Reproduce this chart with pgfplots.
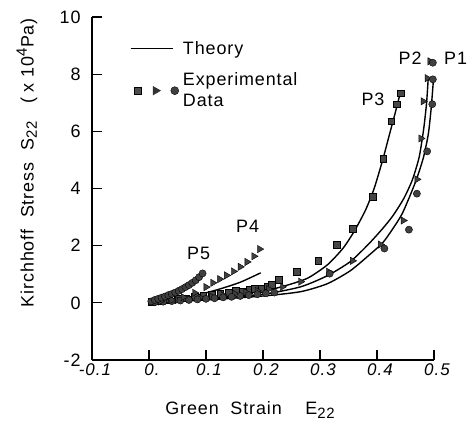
\documentclass[border=0pt]{standalone}
\usepackage{pgfplots}
\pgfplotsset{compat=1.18}
\usetikzlibrary{shapes.geometric}
\usepackage{fontspec}
\setmainfont{Liberation Sans}[LetterSpace=5]
\begin{document}
\begin{tikzpicture}[font=\fontsize{18}{21}\selectfont]
\path (0,0) rectangle (472bp,431bp);
\begin{axis}[
  at={(92bp,71bp)}, anchor=south west,
  scale only axis, width=342bp, height=343bp,
  xmin=-0.1, xmax=0.5, ymin=-2, ymax=10,
  axis x line*=bottom, axis y line*=left,
  axis line style={-, line width=1.5pt},
  /pgf/number format/assume math mode=true,
  xtick={-0.1,0,0.1,0.2,0.3,0.4,0.5},
  xticklabels={-0\kern1pt.\kern1pt1, 0\kern1pt., 0\kern1pt.\kern1pt1, 0\kern1pt.\kern1pt2, 0\kern1pt.\kern1pt3, 0\kern1pt.\kern1pt4, 0\kern1pt.\kern1pt5},
  ytick={-2,0,2,4,6,8,10},
  yticklabels={-2,0,2,4,6,8,10},
  tick align=inside, major tick length=10bp,
  tick style={line width=1.2pt, black},
  xticklabel style={font=\itshape\fontsize{17}{20}\selectfont, xshift=3bp},
  yticklabel style={font=\fontsize{18}{21}\selectfont, xshift=-8bp},
  clip=false,
  legend style={draw=none, fill=none, at={(0.11,0.935)}, anchor=north west,
    font=\fontsize{18}{21}\selectfont, row sep=13bp, inner sep=0pt},
  legend cell align=left,
  legend style={nodes={align=left, inner xsep=4bp}},
]
\addlegendimage{legend image code/.code={\draw[line width=1.5pt] (0bp,0bp) -- (42bp,0bp);}}
\addlegendentry{Theory}
\addlegendimage{legend image code/.code={
  \node[draw=black, fill=gray!60!black, minimum size=7bp, inner sep=0pt] at (3bp,0bp) {};
  \node[fill=black!80, regular polygon, regular polygon sides=3, shape border rotate=-90, minimum size=11bp, inner sep=0pt] at (22bp,0bp) {};
  \node[draw=black, fill=black!75, circle, minimum size=8bp, inner sep=0pt] at (40bp,0bp) {};}}
\addlegendentry{Experimental\\Data}

% theory curves
\addplot[line width=1.4pt, smooth, tension=0.4] coordinates {
(0,0) (0.1,0.17) (0.2,0.42) (0.236,0.58) (0.278,0.86) (0.313,1.33) (0.34,1.9) (0.36,2.5) (0.38,3.25) (0.395,4.0) (0.41,5.0) (0.422,5.9) (0.432,6.65) (0.441,7.35)};
\addplot[line width=1.4pt, smooth, tension=0.4] coordinates {
(0,0) (0.1,0.12) (0.2,0.3) (0.266,0.56) (0.313,0.95) (0.353,1.44) (0.385,2.05) (0.41,2.6) (0.428,3.05) (0.447,3.65) (0.462,4.3) (0.474,5.1) (0.482,6.1) (0.487,7.0) (0.49,7.9)};
\addplot[line width=1.4pt, smooth, tension=0.4] coordinates {
(0,0) (0.1,0.1) (0.2,0.24) (0.266,0.39) (0.313,0.67) (0.353,1.12) (0.385,1.65) (0.41,2.1) (0.428,2.6) (0.445,3.15) (0.467,4.2) (0.481,5.05) (0.49,5.9) (0.495,6.8) (0.499,7.8)};
\addplot[line width=1.4pt, smooth, tension=0.4] coordinates {
(0,0) (0.06,0.15) (0.12,0.46) (0.16,0.72) (0.196,1.05)};

% P3 squares
\addplot[only marks, mark=square*, mark size=3.4pt, mark options={draw=black, fill=gray!55!black, line width=0.5pt}] coordinates {
(0.005,0.04) (0.02,0.07) (0.035,0.1) (0.05,0.13) (0.065,0.16) (0.08,0.2) (0.095,0.24) (0.11,0.28) (0.125,0.32) (0.14,0.36) (0.152,0.42) (0.164,0.4) (0.176,0.46) (0.186,0.5) (0.198,0.48) (0.208,0.58) (0.215,0.64) (0.227,0.8) (0.259,1.09) (0.297,1.47) (0.329,2.04) (0.358,2.6) (0.392,3.72) (0.411,5.05) (0.425,6.35) (0.435,6.95) (0.441,7.33)};

% P2 triangles
\addplot[only marks, mark=triangle*, mark size=4.2pt, mark options={rotate=-90, draw=black, fill=black!75, line width=0.4pt}] coordinates {
(0.01,0.03) (0.03,0.06) (0.05,0.1) (0.07,0.14) (0.09,0.18) (0.11,0.22) (0.13,0.27) (0.15,0.32) (0.17,0.37) (0.19,0.42) (0.21,0.48) (0.234,0.56) (0.266,0.74) (0.315,1.09) (0.357,1.47) (0.406,2.04) (0.446,2.88) (0.47,4.32) (0.477,5.75) (0.481,7.05) (0.488,7.86) (0.493,8.45)};

% P1 circles
\addplot[only marks, mark=*, mark size=3.6pt, mark options={draw=black, fill=black!75, line width=0.4pt}] coordinates {
(0.01,0.02) (0.025,0.04) (0.04,0.06) (0.055,0.08) (0.07,0.1) (0.085,0.12) (0.1,0.14) (0.115,0.16) (0.13,0.19) (0.145,0.21) (0.16,0.24) (0.175,0.27) (0.19,0.3) (0.205,0.33) (0.22,0.36) (0.317,1.02) (0.413,1.9) (0.456,2.56) (0.47,3.82) (0.488,5.3) (0.497,6.95) (0.498,7.82) (0.498,8.4)};

% P4 triangles
\addplot[only marks, mark=triangle*, mark size=4.2pt, mark options={rotate=-90, draw=black, fill=black!75, line width=0.4pt}] coordinates {
(0.02,0.05) (0.04,0.1) (0.06,0.2) (0.08,0.35) (0.10,0.55) (0.112,0.7) (0.124,0.83) (0.136,0.96) (0.148,1.1) (0.16,1.26) (0.172,1.43) (0.184,1.63) (0.194,1.88)};

% P5 circles
\addplot[only marks, mark=*, mark size=3.6pt, mark options={draw=black, fill=black!75, line width=0.4pt}] coordinates {
(0.004,0.05) (0.01,0.1) (0.016,0.14) (0.022,0.18) (0.028,0.22) (0.034,0.27) (0.04,0.31) (0.046,0.36) (0.052,0.42) (0.058,0.48) (0.064,0.55) (0.07,0.62) (0.076,0.7) (0.082,0.79) (0.088,0.9) (0.094,1.03)};

\node at (axis cs:0.538,8.55) {P1};
\node at (axis cs:0.458,8.55) {P2};
\node at (axis cs:0.393,7.12) {P3};
\node at (axis cs:0.173,2.67) {P4};
\node at (axis cs:0.087,1.72) {P5};
\node[rotate=90] at (rel axis cs:-0.19,0.575) {Kirchhoff\ \ Stress\ \ S\raisebox{-0.35ex}{\fontsize{15}{18}\selectfont 22}\ \ \ ( x 10\raisebox{0.7ex}{\fontsize{15}{18}\selectfont 4}Pa)};
\node at (rel axis cs:0.462,-0.146) {Green\ \ Strain\ \ \ \ E\raisebox{-0.35ex}{\fontsize{15}{18}\selectfont 22}};
\end{axis}
\end{tikzpicture}
\end{document}
